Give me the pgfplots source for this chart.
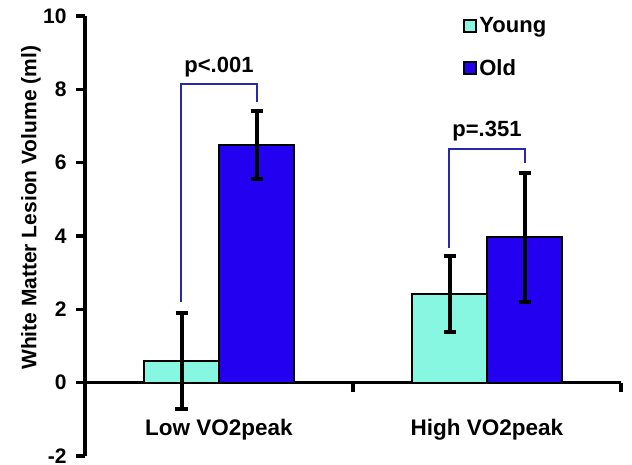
\documentclass[border=0pt]{standalone}
\usepackage{pgfplots}
\pgfplotsset{compat=1.18}
\usepackage{fontspec}
\setmainfont{Liberation Sans}
\definecolor{young}{RGB}{135,247,225}
\definecolor{old}{RGB}{36,0,240}
\definecolor{brk}{RGB}{40,40,170}
\newcommand\lab{\fontsize{21bp}{24bp}\selectfont\bfseries}
\newcommand\plab{\fontsize{22bp}{25bp}\selectfont\bfseries}
\newcommand\xlab{\fontsize{22.5bp}{26bp}\selectfont\bfseries}
\pgfplotsset{mylegend/.style={legend image code/.code={\draw[##1,line width=2bp,draw=black] (0bp,-6bp) rectangle (12bp,6bp);}}}
\begin{document}
\begin{tikzpicture}
\begin{axis}[
  name=ax,
  scale only axis, width=536bp, height=440bp,
  xmin=-0.5, xmax=1.5, ymin=-2, ymax=10,
  axis y line*=left, axis x line*=middle,
  axis line style={line width=3.5bp, black},
  ytick={-2,0,2,4,6,8,10},
  xtick={0,1}, xticklabels={Low VO2peak, High VO2peak},
  xtick style={draw=none},
  extra x ticks={0.5,1.5}, extra x tick labels={},
  extra x tick style={xtick style={draw=black, line width=3.5bp}, tick align=outside},
  ytick style={line width=3.5bp, black},
  major tick length=9bp,
  tick align=outside,
  /pgf/number format/assume math mode=true,
  yticklabel style={font=\lab, xshift=-6bp},
  xticklabel style={font=\xlab, anchor=base, yshift=-44bp, inner sep=0pt},
  ylabel={White Matter Lesion Volume (ml)},
  ylabel style={font=\lab, at={(axis description cs:-0.1007,0.564)}, rotate=0, anchor=center},
  ybar=0pt, bar width=75bp,
  legend style={draw=none, fill=none, at={(axis description cs:0.70,1.006)}, anchor=north west, font=\plab, row sep=21bp, legend cell align=left},
]
\addplot[ybar, mylegend, fill=young, draw=black, line width=2bp,
  error bars/.cd, y dir=both, y explicit,
  error bar style={line width=4bp, black},
  error mark options={rotate=90, mark size=6bp, line width=4bp, black}]
  coordinates {(0,0.60) +- (0,1.31) (1,2.415) +- (0,1.03)};
\addplot[ybar, mylegend, fill=old, draw=black, line width=2bp,
  error bars/.cd, y dir=both, y explicit,
  error bar style={line width=4bp, black},
  error mark options={rotate=90, mark size=6bp, line width=4bp, black}]
  coordinates {(0,6.49) +- (0,0.93) (1,3.97) +- (0,1.76)};
\legend{Young, Old}
\draw[brk, line width=2bp] (axis cs:-0.14,2.19) -- (axis cs:-0.14,8.14) -- (axis cs:0.14,8.14) -- (axis cs:0.14,7.65);
\draw[brk, line width=2bp] (axis cs:0.86,3.66) -- (axis cs:0.86,6.37) -- (axis cs:1.14,6.37) -- (axis cs:1.14,6.0);
\node[anchor=base, font=\plab, inner sep=0pt] at (axis cs:0,8.47) {p<.001};
\node[anchor=base, font=\plab, inner sep=0pt] at (axis cs:1,6.72) {p=.351};
\end{axis}
\pgfresetboundingbox
\path[use as bounding box] ([xshift=-85bp,yshift=-9bp]ax.south west) rectangle ([xshift=11bp,yshift=16bp]ax.north east);
\end{tikzpicture}
\end{document}
